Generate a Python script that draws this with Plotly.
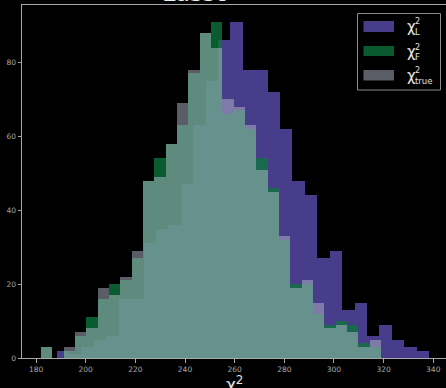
import plotly.graph_objects as go

# Histogram layout: first bin edge and bin width for each family of bins
lasso_edge0, lasso_binw = 188.3, 5.0
shared_edge0, shared_binw = 182.0, 4.565

# Counts per bin
chi2_lasso = [2, 1, 3, 5, 6, 16, 16, 31, 35, 36, 47, 63, 75, 86, 91,
              78, 78, 72, 62, 48, 44, 27, 29, 13, 15, 6, 9, 5, 3, 2]
chi2_fit = [3, 0, 2, 6, 11, 16, 20, 21, 27, 48, 54, 58, 63, 77, 88,
            91, 66, 67, 62, 54, 46, 32, 20, 20, 12, 9, 10, 9, 4, 3]
chi2_true = [3, 0, 3, 7, 8, 19, 17, 22, 29, 48, 49, 58, 69, 78, 88,
             84, 70, 68, 63, 51, 45, 33, 19, 21, 15, 8, 9, 7, 3, 5]

x_ticks = [180, 200, 220, 240, 260, 280, 300, 320, 340]
y_ticks = [0, 20, 40, 60, 80]
title_text = "Lasso"

C_L = "rgb(72,61,139)"
C_F = "rgba(13,116,62,0.78)"
C_T = "rgba(180,186,204,0.5)"
C_L_PATCH = "rgb(72,61,139)"
C_F_PATCH = "rgb(10,90,48)"
C_T_PATCH = "rgb(90,93,102)"
AXIS_C = "#a8a8a8"
TEXT_C = "#e4e4e4"
TICK_C = "#a8a8a8"
FONT = "DejaVu Sans"

W, H = 446, 388
ML, MT, MB, MR = 22, 5, 30, 0


def centers(edge0, binw, n):
    return [edge0 + binw * (i + 0.5) for i in range(n)]


fig = go.Figure()
for counts, e0, bw, col in [
    (chi2_lasso, lasso_edge0, lasso_binw, C_L),
    (chi2_fit, shared_edge0, shared_binw, C_F),
    (chi2_true, shared_edge0, shared_binw, C_T),
]:
    fig.add_trace(go.Bar(
        x=centers(e0, bw, len(counts)), y=counts, width=bw,
        marker=dict(color=col, line=dict(width=0)),
        showlegend=False, hoverinfo="skip",
    ))

# pixel -> paper helpers for the legend box
PW, PH = W - ML - MR, H - MT - MB


def px(x):
    return (x - ML) / PW


def py(y):
    return (H - MB - y) / PH


shapes = [dict(type="rect", xref="paper", yref="paper",
               x0=px(357.5), x1=px(440.5), y0=py(90), y1=py(13.5),
               line=dict(color="#8a8a8a", width=1), fillcolor="rgba(0,0,0,0.8)")]
annotations = []
entries = [(C_L_PATCH, "L", 21, 32, 30), (C_F_PATCH, "F", 46, 56, 55),
           (C_T_PATCH, "true", 70, 80.5, 79)]
for col, sub, y0, y1, ysub in entries:
    shapes.append(dict(type="rect", xref="paper", yref="paper",
                       x0=px(363.5), x1=px(394), y0=py(y1), y1=py(y0),
                       line=dict(width=0), fillcolor=col))
    yc = (y0 + y1) / 2
    annotations.append(dict(text="χ", x=px(404.5), y=py(yc + 1), xref="paper", yref="paper",
                            xanchor="left", yanchor="middle", showarrow=False,
                            font=dict(family=FONT, size=15, color=TEXT_C)))
    annotations.append(dict(text="2", x=px(413), y=py(y0 + 1), xref="paper", yref="paper",
                            xanchor="left", yanchor="middle", showarrow=False,
                            font=dict(family=FONT, size=8, color=TEXT_C)))
    annotations.append(dict(text=sub, x=px(413), y=py(ysub + 2), xref="paper", yref="paper",
                            xanchor="left", yanchor="middle", showarrow=False,
                            font=dict(family=FONT, size=8.5, color=TEXT_C)))

# x-axis label
annotations.append(dict(text="χ<sup>2</sup>", x=px(234.5), y=py(371), xref="paper", yref="paper",
                        xanchor="center", yanchor="top", showarrow=False,
                        font=dict(family=FONT, size=17, color=TEXT_C)))

# title, sitting above the top edge of the page
annotations.append(dict(text=title_text, x=px(195.5), y=py(8.5), xref="paper", yref="paper",
                        xanchor="center", yanchor="bottom", showarrow=False,
                        font=dict(family=FONT, size=24, color="#f0f0f0")))

fig.update_layout(
    width=W, height=H,
    margin=dict(l=ML, r=MR, t=MT, b=MB, pad=0),
    paper_bgcolor="black", plot_bgcolor="black",
    barmode="overlay", bargap=0,
    showlegend=False,
    shapes=shapes, annotations=annotations,
    font=dict(family=FONT),
)
fig.update_xaxes(
    range=[174.34, 345.14], tickvals=x_ticks, ticktext=[str(v) for v in x_ticks],
    showgrid=False, zeroline=False, showline=True, mirror=True,
    linecolor=AXIS_C, linewidth=1, ticks="outside", ticklen=3.5, tickwidth=1,
    tickcolor=AXIS_C, tickfont=dict(family=FONT, size=7.5, color=TICK_C),
)
fig.update_yaxes(
    range=[0, 95.53], tickvals=y_ticks, ticktext=[str(v) for v in y_ticks],
    showgrid=False, zeroline=False, showline=True, mirror=False,
    linecolor=AXIS_C, linewidth=1, ticks="outside", ticklen=3.5, tickwidth=1,
    tickcolor=AXIS_C, tickfont=dict(family=FONT, size=7.5, color=TICK_C),
)

fig.write_html("out.html")
